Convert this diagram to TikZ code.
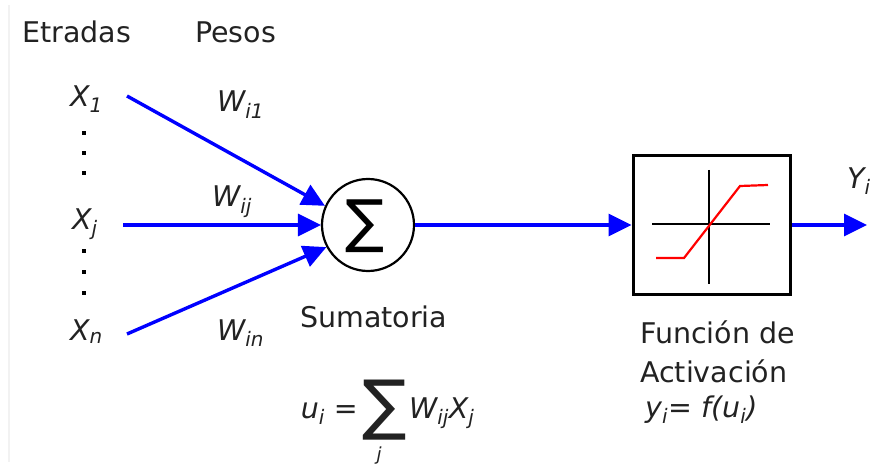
\documentclass[tikz,border=0pt]{standalone}
\usepackage{fontspec}
\setmainfont{DejaVu Sans}
\usepackage{tikz}
\usetikzlibrary{shapes,arrows.meta,positioning}
\definecolor{tinta}{HTML}{222222}
\tikzstyle{etiqueta} = [text=tinta, inner sep=0pt, anchor=base west, font=\fontsize{28.5}{39}\selectfont]
\tikzstyle{simbolo} = [etiqueta, font=\fontsize{28.5}{39}\selectfont\itshape]
\tikzstyle{flecha} = [draw=blue, line width=3.4pt, -{Triangle[length=23pt,width=22pt]}]
\tikzstyle{sumador} = [draw=black, circle, line width=2.2pt, minimum size=92pt, inner sep=0pt]
\tikzstyle{bloque} = [draw=black, rectangle, line width=3pt, minimum width=157pt, minimum height=138pt]
\tikzstyle{punto} = [fill=black, minimum size=4.5pt, inner sep=0pt, rectangle]

\begin{document}
\begin{tikzpicture}[x=1pt,y=-1pt]
\useasboundingbox (0,0) rectangle (873,468);
\draw[color=gray!10, line width=1.2pt] (9,5) -- (9,462);

% titulos
\node[etiqueta] (entradas) at (22,43) {Etradas};
\node[etiqueta] (pesos) at (195,43) {Pesos};

% entradas
\node[simbolo] (x1) at (70,107) {X\textsubscript{1}};
\node[simbolo] (xj) at (72,229) {X\textsubscript{j}};
\node[simbolo] (xn) at (70,340) {X\textsubscript{n}};
\foreach \y in {133,153,173,251,272,293}
  \node[punto] at (84,\y) {};

% pesos
\node[simbolo] (wi1) at (217,112) {W\textsubscript{i1}};
\node[simbolo] (wij) at (212,207) {W\textsubscript{ij}};
\node[simbolo] (win) at (217,340) {W\textsubscript{in}};

% sumatoria
\node[sumador] (sum) at (368,225) {};
\node[text=black, inner sep=0pt] (sig) at (365,226) {\fontsize{58}{58}\selectfont ∑};
\coordinate (in1) at (127,96);
\coordinate (inj) at (123,225);
\coordinate (inn) at (127,334);
\draw[flecha] (in1) -- (sum.156);
\draw[flecha] (inj) -- (sum.west);
\draw[flecha] (inn) -- (sum.208);
\node[etiqueta] (sumatoria) at (300,327) {Sumatoria};

% funcion de activacion
\node[bloque] (act) at (711.5,225) {};
\draw[flecha] (sum.east) -- (act.west);
\begin{scope}[shift={(709,224)}]
  \draw[line width=2.4pt] (-57,0) -- (61,0);
  \draw[line width=2.4pt] (0,-54) -- (0,60);
  \draw[red, line width=2.2pt] (-53,34) -- (-25,34) -- (31,-38) -- (59,-39);
\end{scope}
\coordinate (salida) at (867,225);
\draw[flecha] (act.east) -- (salida);
\node[simbolo] (yi) at (847,188) {Y\textsubscript{i}};
\node[etiqueta, align=left] (nombre) at (640,382) {Función de\\Activación};

% ecuaciones
\node[text=tinta, inner sep=0pt] (sigma) at (385,410) {\fontsize{66}{66}\selectfont ∑};
\node[simbolo, anchor=base east] (ui) at (358,418) {u\textsubscript{i} =};
\node[simbolo] (wx) at (409,418) {W\textsubscript{ij}X\textsubscript{j}};
\node[simbolo, anchor=base, font=\fontsize{18}{18}\selectfont\itshape] (jj) at (379,460) {j};
\node[simbolo] (yf) at (645,417) {y\textsubscript{i}= f(u\textsubscript{i})};
\end{tikzpicture}
\end{document}
